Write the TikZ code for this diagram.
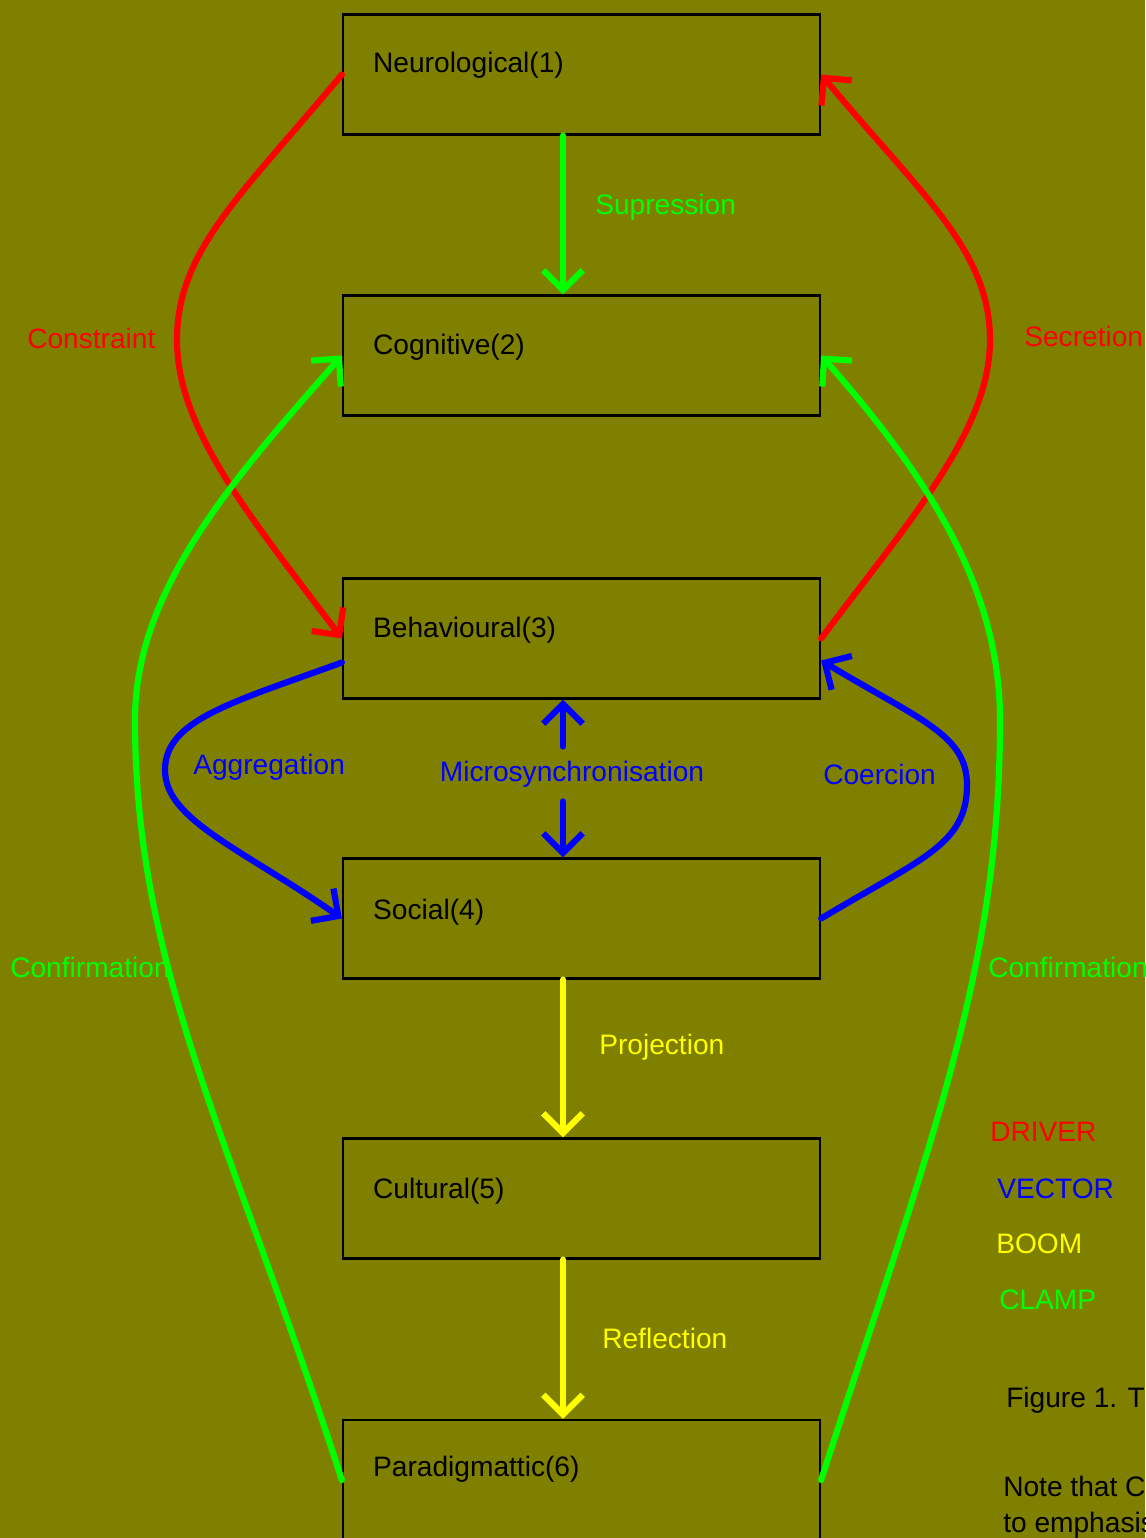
\documentclass[tikz,border=0pt]{standalone}
\usepackage{fontspec}
\setmainfont{Liberation Sans}
\usetikzlibrary{arrows.meta,calc}
\definecolor{olivebg}{RGB}{128,128,0}
\definecolor{drivercol}{RGB}{255,0,0}
\definecolor{vectorcol}{RGB}{0,0,255}
\definecolor{boomcol}{RGB}{255,255,0}
\definecolor{clampcol}{RGB}{0,255,0}

\begin{document}
\begin{tikzpicture}[x=0.025cm, y=-0.025cm,
    every node/.style={font=\fontsize{20}{24}\selectfont},
    layer/.style={draw=black, line width=1.5pt, minimum width=11.925cm, minimum height=3cm, inner sep=0pt},
    tag/.style={anchor=west, inner sep=0pt},
    link/.style={line width=4.4pt, line cap=round, -{Straight Barb[length=14pt,width=28pt]}},
    driver/.style={link, draw=drivercol},
    vector/.style={link, draw=vectorcol},
    boom/.style={link, draw=boomcol},
    clamp/.style={link, draw=clampcol}]
    \useasboundingbox (0,0) rectangle (1145,1538);
    \clip (0,0) rectangle (1145,1538);
    \fill[olivebg] (0,0) rectangle (1145,1538);

    % the six layers
    \node[layer] (neuro) at (581.5,74.5) {};
    \node[layer] (cog) at (581.5,355.5) {};
    \node[layer] (behav) at (581.5,638.5) {};
    \node[layer] (social) at (581.5,918.5) {};
    \node[layer] (cult) at (581.5,1198.5) {};
    \node[layer] (para) at (581.5,1480) {};

    \node[tag] (neurotext) at ($(neuro.west)+(31,-9)$) {Neurological(1)};
    \node[tag] (cogtext) at ($(cog.west)+(31,-8)$) {Cognitive(2)};
    \node[tag] (behavtext) at ($(behav.west)+(31,-8)$) {Behavioural(3)};
    \node[tag] (socialtext) at ($(social.west)+(31,-6)$) {Social(4)};
    \node[tag] (culttext) at ($(cult.west)+(31,-7)$) {Cultural(5)};
    \node[tag] (paratext) at ($(para.west)+(31,-11)$) {Paradigmattic(6)};

    \coordinate (axis) at (563,0);

    % straight links
    \draw[clamp] (axis |- neuro.south) -- (axis |- cog.north);
    \node[tag, text=clampcol] (supression) at (595,207) {Supression};

    \node[inner xsep=0pt, inner ysep=0.35cm, text=vectorcol] (micro) at (572,774) {Microsynchronisation};
    \draw[vector] (axis |- micro.north) -- (axis |- behav.south);
    \draw[vector] (axis |- micro.south) -- (axis |- social.north);

    \draw[boom] (axis |- social.south) -- (axis |- cult.north);
    \node[tag, text=boomcol] (projection) at (599,1047) {Projection};
    \draw[boom] (axis |- cult.south) -- (axis |- para.north);
    \node[tag, text=boomcol] (reflection) at (602,1338) {Reflection};

    % drivers
    \draw[driver] (neuro.west) .. controls +(-100,120) and +(0,-90) .. (177,340)
        .. controls +(0,90) and +(-90,-120) .. (behav.west);
    \node[tag, text=drivercol] (constraint) at (27,338) {Constraint};
    \draw[driver] (behav.east) .. controls +(90,-120) and +(0,90) .. (990,340)
        .. controls +(0,-90) and +(100,120) .. (neuro.east);
    \node[tag, text=drivercol] (secretion) at (1024,336) {Secretion};

    % clamps
    \draw[clamp] (para.west) .. controls +(-110,-340) and +(0,250) .. (135,720)
        .. controls +(0,-130) and +(-110,125) .. (cog.west);
    \node[tag, text=clampcol] (confleft) at (10,967) {Confirmation};
    \draw[clamp] (para.east) .. controls +(110,-340) and +(0,250) .. (1000,720)
        .. controls +(0,-130) and +(110,125) .. (cog.east);
    \node[tag, text=clampcol] (confright) at (988,967) {Confirmation};

    % vectors
    \draw[vector] ($(behav.west)+(0,24)$) .. controls +(-110,40) and +(0,-50) .. (165,770)
        .. controls +(0,50) and +(-100,-70) .. (social.west);
    \node[tag, text=vectorcol] (aggregation) at (193,767) {Aggregation};
    \draw[vector] (social.east) .. controls +(100,-60) and +(0,60) .. (967,785)
        .. controls +(0,-50) and +(100,60) .. ($(behav.east)+(0,22)$);
    \node[tag, text=vectorcol] (coercion) at (823,774) {Coercion};

    % legend
    \node[tag, text=drivercol] (keydriver) at (990,1132) {DRIVER};
    \node[tag, text=vectorcol] (keyvector) at (997,1189) {VECTOR};
    \node[tag, text=boomcol] (keyboom) at (996,1244) {BOOM};
    \node[tag, text=clampcol] (keyclamp) at (999,1300) {CLAMP};

    \node[tag] (caption) at (1006,1400) {Figure 1. Th};
    \node[tag] (noteone) at (1003,1486) {Note that C};
    \node[tag] (notetwo) at (1003,1525) {to emphasis};
\end{tikzpicture}
\end{document}
